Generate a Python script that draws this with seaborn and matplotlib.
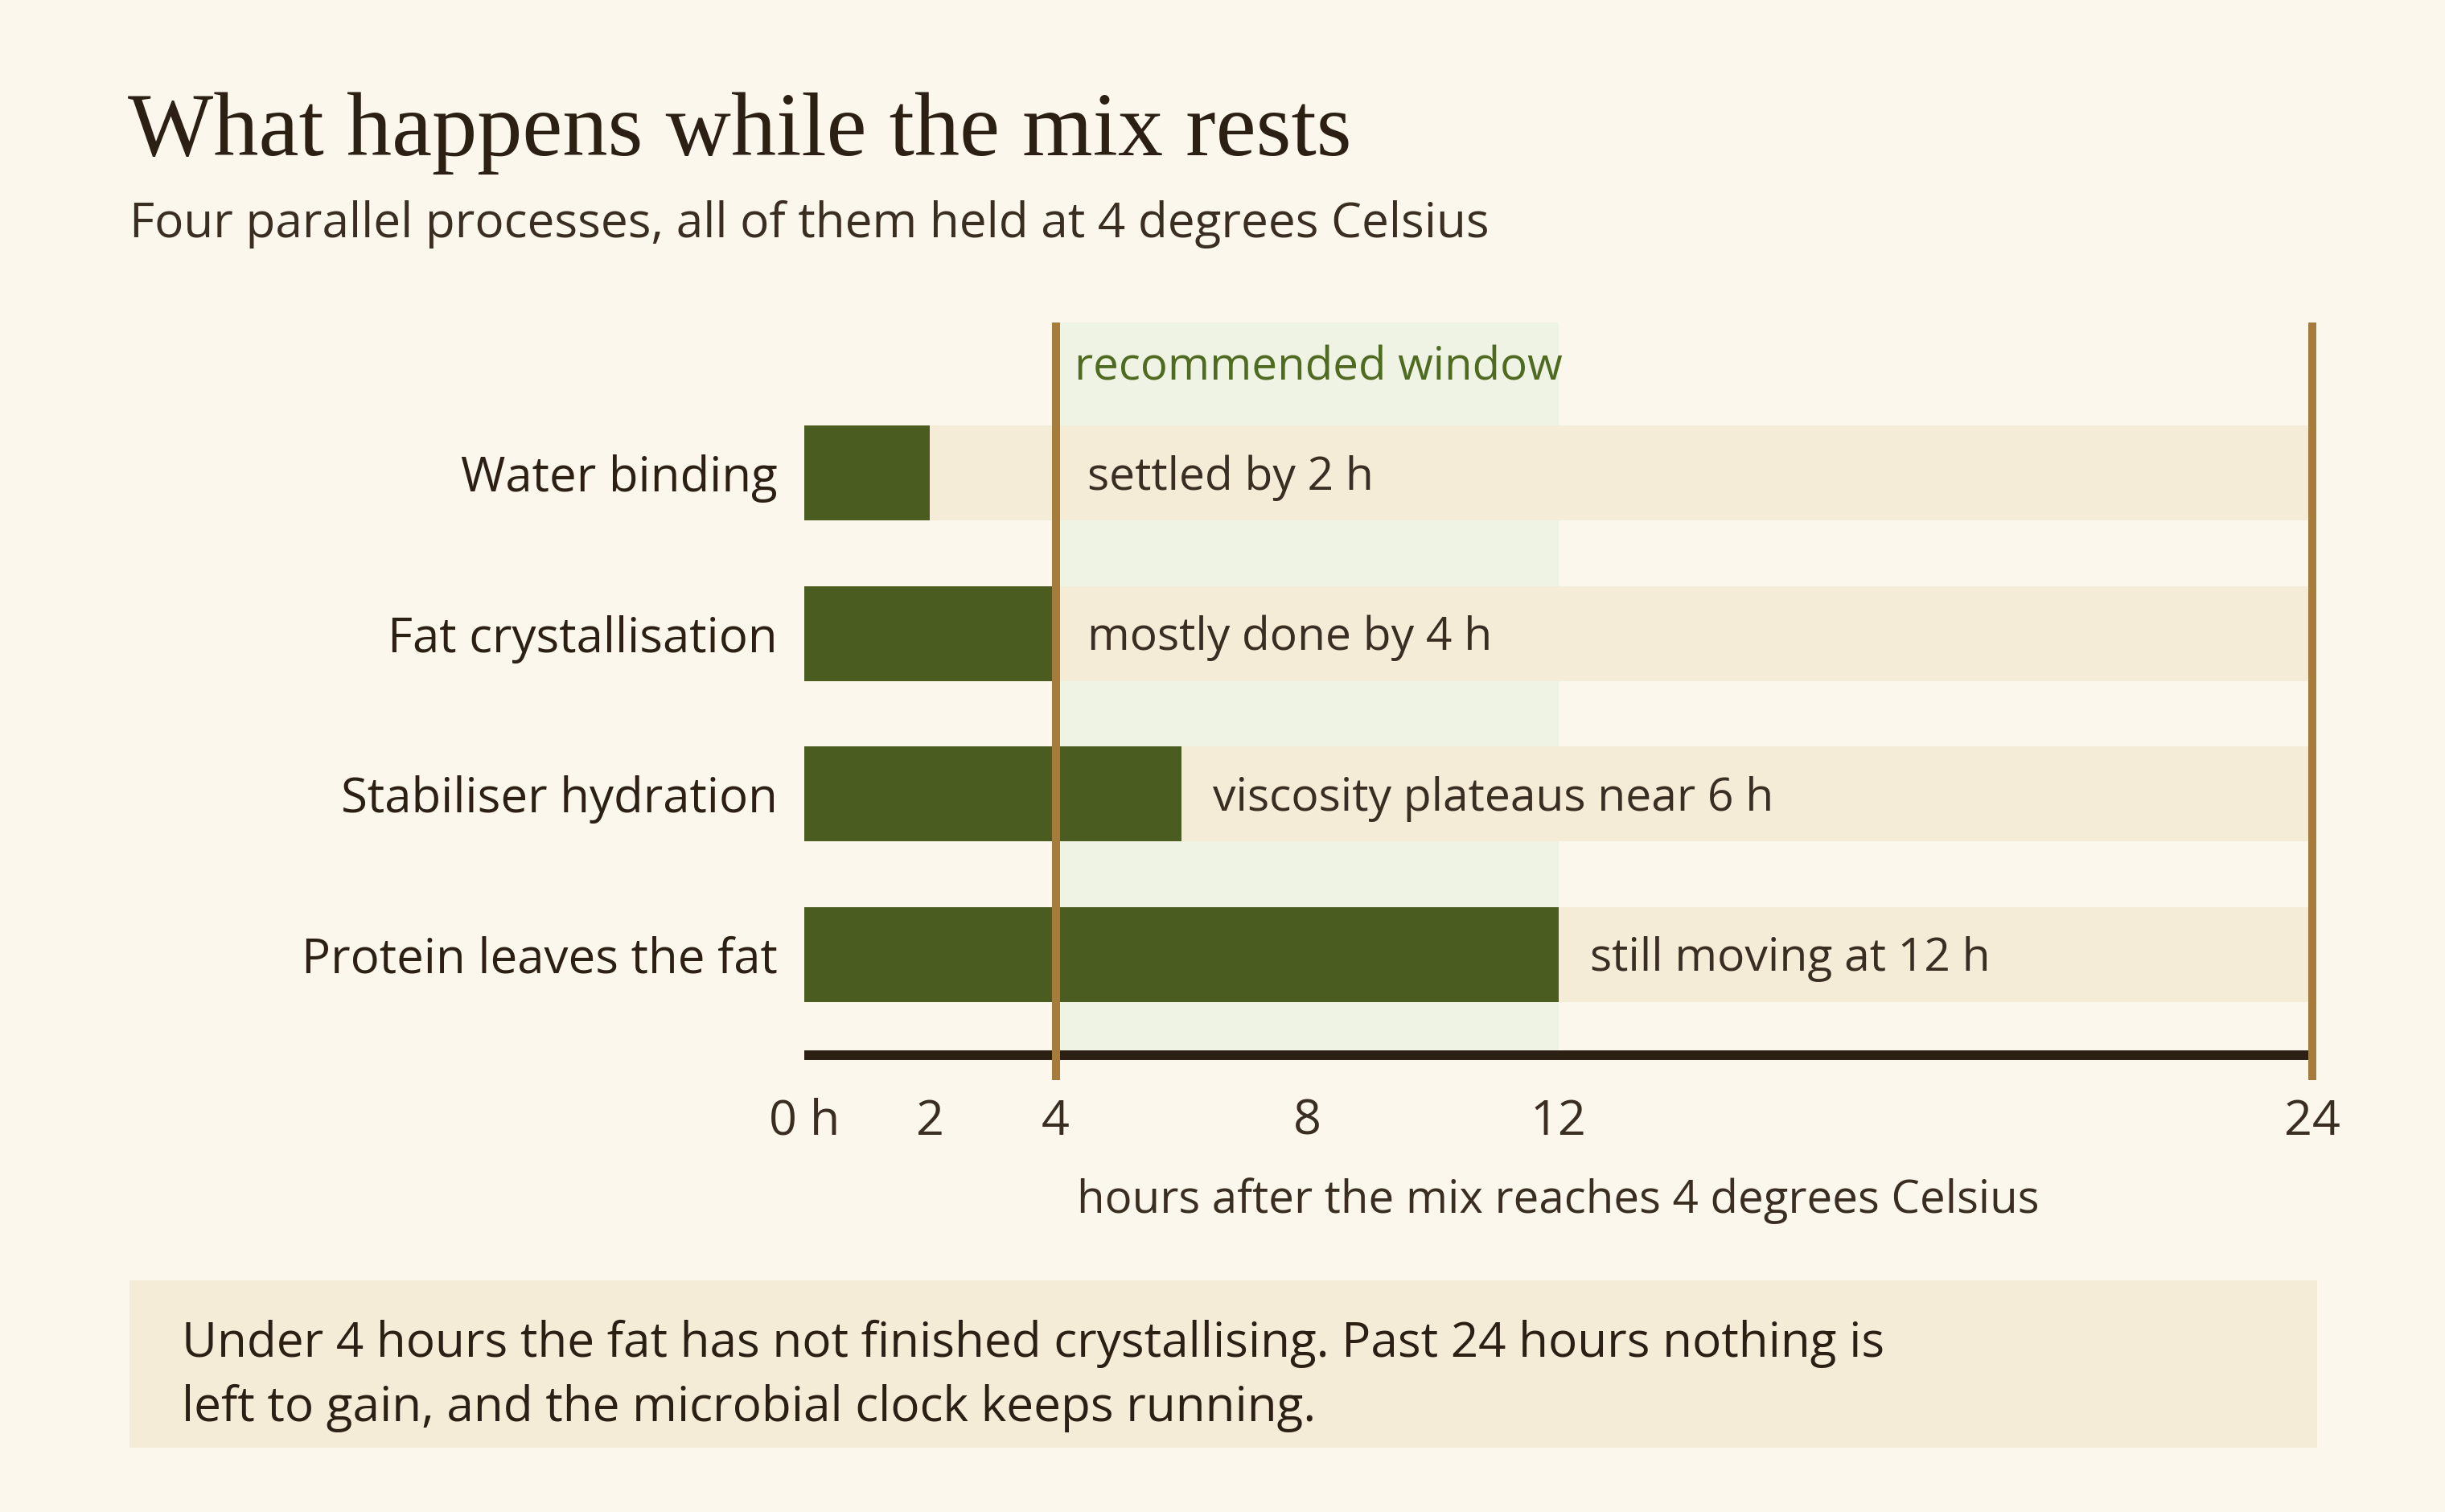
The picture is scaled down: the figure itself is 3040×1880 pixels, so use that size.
import matplotlib
matplotlib.use("Agg")
import matplotlib.pyplot as plt
import seaborn as sns
import pandas as pd
from matplotlib.patches import Rectangle

# ---- data ----
processes = ["Water binding", "Fat crystallisation", "Stabiliser hydration", "Protein leaves the fat"]
hours_done = [2, 4, 6, 12]
notes = ["settled by 2 h", "mostly done by 4 h", "viscosity plateaus near 6 h", "still moving at 12 h"]
scale_end = 24
window_start = 4
window_end = 12
tick_values = [0, 2, 4, 8, 12, 24]
tick_labels = ["0 h", "2", "4", "8", "12", "24"]

title = "What happens while the mix rests"
subtitle = "Four parallel processes, all of them held at 4 degrees Celsius"
xlabel = "hours after the mix reaches 4 degrees Celsius"
window_label = "recommended window"
footnote_lines = ["Under 4 hours the fat has not finished crystallising. Past 24 hours nothing is",
                  "left to gain, and the microbial clock keeps running."]

# ---- style ----
BG = "#FBF7EC"
TRACK = "#F4ECD7"
WIN = "#EEF3E3"
GREEN = "#4B5C21"
GOLD = "#A57C3C"
DARK = "#2C2015"
TEXT = "#3A2E22"
WINTXT = "#4F6A21"

sns.set_theme(style="white")
plt.rcParams['font.family'] = ['Open Sans', 'DejaVu Sans']

W, H = 3040, 1880
fig = plt.figure(figsize=(15.2, 9.4), dpi=200, facecolor=BG)
ax = fig.add_axes([1000 / W, 1 - 1312 / H, 1875 / W, 911 / H])
ax.set_facecolor(BG)

df = pd.DataFrame({"process": processes, "done": hours_done,
                   "full": [scale_end] * len(processes)})

ax.axvspan(window_start, window_end, color=WIN, zorder=0, lw=0)
sns.barplot(data=df, y="process", x="full", color=TRACK, width=0.59,
            saturation=1, ax=ax, zorder=1, linewidth=0)
sns.barplot(data=df, y="process", x="done", color=GREEN, width=0.59,
            saturation=1, ax=ax, zorder=2, linewidth=0)

y_top, y_bot = -0.936, 3.626
ax.set_ylim(y_bot, y_top)
ax.set_xlim(0, scale_end)

for xv in (window_start, scale_end):
    ax.plot([xv, xv], [y_top, y_bot + 0.155], color=GOLD, lw=3.6,
            clip_on=False, zorder=6, solid_capstyle='butt')

for i, (v, note) in enumerate(zip(hours_done, notes)):
    ax.text(max(v, window_start) + 0.5, i + 0.03, note, va='center', ha='left',
            fontsize=20.5, color=TEXT, zorder=7)

ax.text(window_start + 0.3, -0.65, window_label, va='center', ha='left',
        fontsize=20.3, color=WINTXT, zorder=7)

for s in ("top", "left", "right"):
    ax.spines[s].set_visible(False)
ax.spines["bottom"].set_color(DARK)
ax.spines["bottom"].set_linewidth(4.3)
ax.spines["bottom"].set_capstyle('butt')

ax.set_xticks(tick_values, tick_labels)
ax.tick_params(axis='x', length=0, pad=19, labelsize=22, labelcolor=TEXT)
ax.tick_params(axis='y', length=0, pad=12, labelsize=21.6, labelcolor=DARK)
ax.set_ylabel("")
ax.set_xlabel("")
ax.text(scale_end / 2, (1312 - 1493) / 911, xlabel, transform=ax.get_xaxis_transform(),
        ha='center', va='center', fontsize=20.3, color=TEXT)

fig.text(159 / W, 1 - 193 / H, title, fontsize=40.5, family=['Liberation Serif'],
         color=DARK, va='baseline', ha='left')
fig.text(161 / W, 1 - 295 / H, subtitle, fontsize=21.7, color=TEXT,
         va='baseline', ha='left')

fig.patches.append(Rectangle((161 / W, 1 - 1800 / H), (2881 - 161) / W, (1800 - 1592) / H,
                             transform=fig.transFigure, facecolor=TRACK, lw=0, zorder=0))
for k, line in enumerate(footnote_lines):
    fig.text(226 / W, 1 - (1687 + 80 * k) / H, line, fontsize=21.7, color=DARK,
             va='baseline', ha='left')

fig.savefig("out.png", dpi=200, facecolor=BG)
